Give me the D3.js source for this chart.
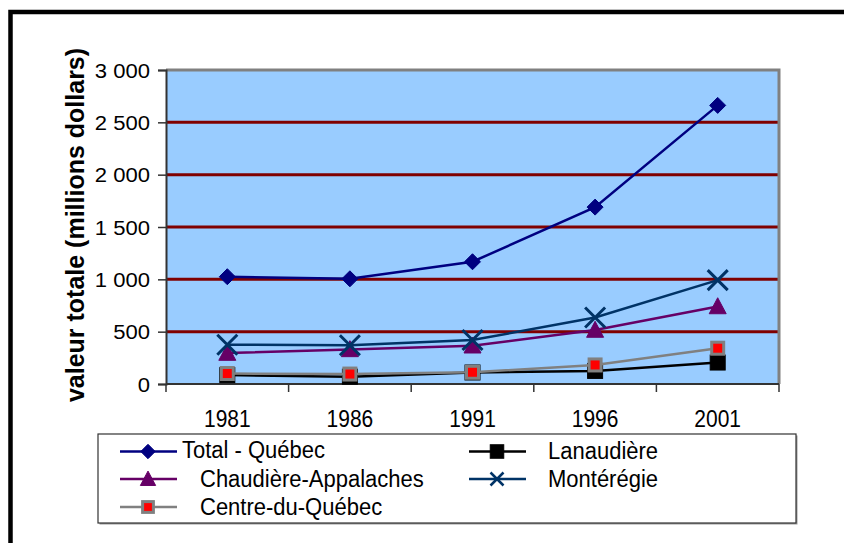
<!DOCTYPE html>
<html>
<head>
<meta charset="utf-8">
<script src="https://cdn.jsdelivr.net/npm/d3@7"></script>
<style>
  html, body { margin: 0; padding: 0; background: #fff; }
  svg { display: block; font-family: Arial, "Liberation Sans", sans-serif; }
</style>
</head>
<body>
<svg id="chart" width="844" height="543"></svg>
<script>
// ---- data ----
const categories = ["1981", "1986", "1991", "1996", "2001"];
const totalQuebec = [1025, 1005, 1168, 1690, 2662];
const lanaudiere = [85, 70, 110, 125, 205];
const chaudiereAppalaches = [295, 330, 365, 515, 740];
const monteregie = [375, 370, 420, 635, 992];
const centreDuQuebec = [100, 95, 112, 182, 342];
const yTickValues = [0, 500, 1000, 1500, 2000, 2500, 3000];
const seriesNames = ["Total - Québec", "Lanaudière", "Chaudière-Appalaches", "Montérégie", "Centre-du-Québec"];
const yTitle = "valeur totale (millions dollars)";

// ---- styles ----
const styles = [
  { values: totalQuebec, color: "#000080", marker: "diamond" },
  { values: lanaudiere, color: "#000000", marker: "square" },
  { values: chaudiereAppalaches, color: "#660066", marker: "triangle" },
  { values: monteregie, color: "#003366", marker: "x" },
  { values: centreDuQuebec, color: "#808080", marker: "redsquare" }
];
const series = seriesNames.map((name, i) => Object.assign({ name }, styles[i]));

const svg = d3.select("#chart");
const plot = { left: 166, top: 70, right: 779, bottom: 384 };

// outer frame
svg.append("rect").attr("x", 0).attr("y", 0).attr("width", 844).attr("height", 543).attr("fill", "#fff");
svg.append("rect").attr("x", 10.5).attr("y", 12).attr("width", 900).attr("height", 600)
  .attr("fill", "none").attr("stroke", "#000").attr("stroke-width", 4.5);

const x = d3.scaleBand().domain(categories).range([plot.left, plot.right]).padding(0);
const y = d3.scaleLinear().domain([0, 3000]).range([plot.bottom, plot.top]);

// plot background
svg.append("rect").attr("x", plot.left).attr("y", plot.top)
  .attr("width", plot.right - plot.left).attr("height", plot.bottom - plot.top)
  .attr("fill", "#99CCFF");

// gridlines
svg.append("g").selectAll("line").data(yTickValues.filter(v => v > 0 && v < 3000)).join("line")
  .attr("x1", plot.left).attr("x2", plot.right)
  .attr("y1", d => y(d)).attr("y2", d => y(d))
  .attr("stroke", "#800000").attr("stroke-width", 3);

// plot border (top & right grey)
svg.append("path")
  .attr("d", `M${plot.left},${plot.top}H${plot.right}V${plot.bottom}`)
  .attr("fill", "none").attr("stroke", "#808080").attr("stroke-width", 3);

// y axis
const loc = d3.formatLocale({ decimal: ",", thousands: " ", grouping: [3], currency: ["", " $"] });
const yAxis = d3.axisLeft(y).tickValues(yTickValues).tickSize(8).tickPadding(7).tickFormat(loc.format(",d"));
const gy = svg.append("g").attr("transform", `translate(${plot.left},0)`).call(yAxis);
gy.select(".domain").attr("stroke", "#333").attr("stroke-width", 2);
gy.selectAll(".tick line").attr("stroke", "#333").attr("stroke-width", 1.5);
gy.selectAll(".tick text").attr("font-size", 21).attr("fill", "#000")
  .attr("font-family", "Arial, 'Liberation Sans', sans-serif")
  .attr("x", null).attr("dy", null)
  .attr("transform", "translate(-16,7) scale(1.05,0.95)");

// x axis
const xAxis = d3.axisBottom(x).tickSize(0).tickPadding(0);
const gx = svg.append("g").attr("transform", `translate(0,${plot.bottom})`).call(xAxis);
gx.select(".domain").remove();
gx.selectAll(".tick text").attr("font-size", 21).attr("fill", "#000")
  .attr("font-family", "Arial, 'Liberation Sans', sans-serif")
  .attr("y", null).attr("dy", null)
  .attr("transform", "translate(0,43) scale(1,1.12)");
// x axis line and boundary ticks
svg.append("line").attr("x1", plot.left).attr("x2", plot.right)
  .attr("y1", plot.bottom).attr("y2", plot.bottom).attr("stroke", "#333").attr("stroke-width", 2);
const bounds = categories.map(c => x(c)).concat([x(categories[categories.length - 1]) + x.bandwidth()]);
svg.append("g").selectAll("line").data(bounds).join("line")
  .attr("x1", d => d).attr("x2", d => d)
  .attr("y1", plot.bottom).attr("y2", plot.bottom + 8)
  .attr("stroke", "#333").attr("stroke-width", 1.5);

// y title
svg.append("text")
  .attr("transform", `translate(84,225) rotate(-90) scale(1,1.05)`)
  .attr("text-anchor", "middle")
  .attr("font-size", 25).attr("font-weight", "bold").attr("fill", "#000")
  .text(yTitle);

// marker drawing
function drawMarker(g, type, color, cx, cy, scale) {
  const s = scale || 1;
  if (type === "diamond") {
    const r = 8 * s;
    g.append("path").attr("d", `M${cx},${cy - r}L${cx + r},${cy}L${cx},${cy + r}L${cx - r},${cy}Z`)
      .attr("fill", color).attr("stroke", color).attr("stroke-width", 1);
  } else if (type === "square") {
    const r = 7.5 * s;
    g.append("rect").attr("x", cx - r).attr("y", cy - r).attr("width", 2 * r).attr("height", 2 * r)
      .attr("fill", color).attr("stroke", color).attr("stroke-width", 1);
  } else if (type === "triangle") {
    const w = 8.5 * s, h = 16 * s;
    g.append("path").attr("d", `M${cx},${cy - h * 0.55}L${cx + w},${cy + h * 0.45}L${cx - w},${cy + h * 0.45}Z`)
      .attr("fill", color).attr("stroke", color).attr("stroke-width", 1);
  } else if (type === "x") {
    const r = 10 * s;
    g.append("path").attr("d", `M${cx - r},${cy - r}L${cx + r},${cy + r}M${cx - r},${cy + r}L${cx + r},${cy - r}`)
      .attr("fill", "none").attr("stroke", color).attr("stroke-width", s < 1 ? 2.5 : 3);
  } else if (type === "redsquare") {
    const r = 6 * s;
    g.append("rect").attr("x", cx - r).attr("y", cy - r).attr("width", 2 * r).attr("height", 2 * r)
      .attr("fill", "#FF0000").attr("stroke", "#808080").attr("stroke-width", 3);
  }
}

const line = d3.line().x((d, i) => x(categories[i]) + x.bandwidth() / 2).y(d => y(d));

series.forEach(s => {
  const g = svg.append("g");
  g.append("path").attr("d", line(s.values)).attr("fill", "none")
    .attr("stroke", s.color).attr("stroke-width", 2.5);
  s.values.forEach((v, i) => drawMarker(g, s.marker, s.color, x(categories[i]) + x.bandwidth() / 2, y(v), 1));
});

// legend
const legend = { x: 98, y: 434, w: 698, h: 89 };
svg.append("rect").attr("x", legend.x + 1.5).attr("y", legend.y + 1.5).attr("width", legend.w).attr("height", legend.h)
  .attr("fill", "#999");
svg.append("rect").attr("x", legend.x).attr("y", legend.y).attr("width", legend.w).attr("height", legend.h)
  .attr("fill", "#fff").attr("stroke", "#333").attr("stroke-width", 1.2);

const legendPos = [
  { sx: 120, tx: 182, cy: 451.5, by: 458.3 },
  { sx: 469, tx: 548, cy: 451.5, by: 458.8 },
  { sx: 120, tx: 200, cy: 479, by: 486.7 },
  { sx: 469, tx: 548, cy: 479, by: 486.7 },
  { sx: 120, tx: 200, cy: 507, by: 515 }
];
series.forEach((s, i) => {
  const p = legendPos[i];
  const g = svg.append("g");
  g.append("line").attr("x1", p.sx).attr("x2", p.sx + 57).attr("y1", p.cy).attr("y2", p.cy)
    .attr("stroke", s.color).attr("stroke-width", 2.5);
  drawMarker(g, s.marker, s.color, p.sx + 28, p.cy, s.marker === "x" ? 0.65 : 0.9);
  g.append("text").attr("transform", `translate(${p.tx},${p.by}) scale(1,1.05)`)
    .attr("font-size", 22).attr("fill", "#000").text(s.name);
});
</script>
</body>
</html>
